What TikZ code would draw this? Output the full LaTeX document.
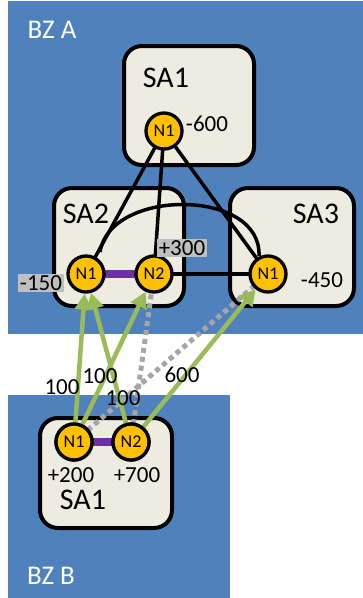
\documentclass[tikz,border=0pt]{standalone}
\usepackage{fontspec}
\setmainfont{Carlito}
\usetikzlibrary{arrows.meta}
\definecolor{bzblue}{HTML}{4F81BD}
\definecolor{boxfill}{HTML}{EEECE1}
\definecolor{gold}{HTML}{FFC000}
\definecolor{purp}{HTML}{7030A0}
\definecolor{grn}{HTML}{9BBB59}
\definecolor{dotgray}{HTML}{A6A6A6}
\definecolor{lblgray}{HTML}{BFBFBF}
\tikzset{
  zone/.style={fill=bzblue, draw=none},
  zonelbl/.style={text=white, inner sep=0pt, font=\fontsize{27}{29}\selectfont},
  sabox/.style={draw=black, line width=4pt, fill=boxfill, rounded corners=18pt, inner sep=0pt},
  salbl/.style={inner sep=0pt, font=\fontsize{30}{32}\selectfont},
  nd/.style={circle, draw=black, line width=3.3pt, fill=gold, minimum size=36pt, inner sep=0pt, font=\fontsize{18}{19}\selectfont},
  num/.style={inner sep=0pt, font=\fontsize{23}{25}\selectfont},
  graylbl/.style={fill=lblgray, inner sep=1.5pt, font=\fontsize{23}{25}\selectfont},
  blk/.style={draw=black, line width=3.5pt},
  intra/.style={draw=purp, line width=8pt},
  flow/.style={draw=grn, line width=4.5pt, -{Triangle[length=16pt,width=17pt]}},
  dflow/.style={draw=dotgray, line width=5pt, dash pattern=on 5pt off 4pt}
}
\begin{document}
\begin{tikzpicture}[x=1pt,y=-1pt]
\useasboundingbox (0,0) rectangle (363,598);
% zones
\fill[zone] (8,1) rectangle (363,334);
\fill[zone] (8,395) rectangle (230,598);
\node[zonelbl] (bzA) at (52,30) {BZ A};
\node[zonelbl] (bzB) at (51,576) {BZ B};
% boxes
\node[sabox, minimum width=130pt, minimum height=119pt] (boxA1) at (189,105.5) {};
\node[sabox, minimum width=130pt, minimum height=118pt] (boxA2) at (119,247) {};
\node[sabox, minimum width=124pt, minimum height=118pt] (boxA3) at (292,247) {};
\node[sabox, minimum width=132pt, minimum height=110pt] (boxB1) at (106,473) {};
\node[salbl] (lA1) at (166,78) {SA1};
\node[salbl] (lA2) at (86,214) {SA2};
\node[salbl] (lA3) at (316,214) {SA3};
\node[salbl] (lB1) at (83,500) {SA1};
% node coordinates
\coordinate (pA1N1) at (164,131);
\coordinate (pA2N1) at (86,274);
\coordinate (pA2N2) at (154,274);
\coordinate (pA3N1) at (268,274);
\coordinate (pB1N1) at (74,442);
\coordinate (pB1N2) at (131,442);
% black links
\draw[blk] (pA1N1) -- (pA2N1);
\draw[blk] (pA1N1) -- (pA2N2);
\draw[blk] (pA1N1) -- (pA3N1);
\draw[blk] (pA2N2) -- (pA3N1);
\draw[blk] (100,252) .. controls (110,188) and (262,188) .. (259,256);
% dotted flows
\draw[dflow] (pB1N1) -- (pA3N1);
\draw[dflow] (pB1N2) -- (pA2N2);
% purple intra links
\draw[intra] (pA2N1) -- (pA2N2);
\draw[intra] (pB1N1) -- (pB1N2);
% nodes
\node[nd] (A1N1) at (pA1N1) {N1};
\node[nd] (A2N1) at (pA2N1) {N1};
\node[nd] (A2N2) at (pA2N2) {N2};
\node[nd] (A3N1) at (pA3N1) {N1};
\node[nd] (B1N1) at (pB1N1) {N1};
\node[nd] (B1N2) at (pB1N2) {N2};
% green flows
\draw[flow] (B1N1.center) -- (A2N1);
\draw[flow] (B1N2.center) -- (A2N1);
\draw[flow] (B1N1.center) -- (A2N2);
\draw[flow] (B1N2.center) -- (A3N1);
\node[nd] at (pB1N1) {N1};
\node[nd] at (pB1N2) {N2};
% numbers
\node[num] (v600) at (207,124) {-600};
\node[graylbl] (v300) at (182,248) {+300};
\node[graylbl] (v150) at (41,283) {-150};
\node[num] (v450) at (322,280) {-450};
\node[num] (v200) at (71,475) {+200};
\node[num] (v700) at (137,475) {+700};
\node[num] (f1) at (62,387) {100};
\node[num] (f2) at (100,376) {100};
\node[num] (f3) at (123,398) {100};
\node[num] (f4) at (182,375) {600};
\end{tikzpicture}
\end{document}
